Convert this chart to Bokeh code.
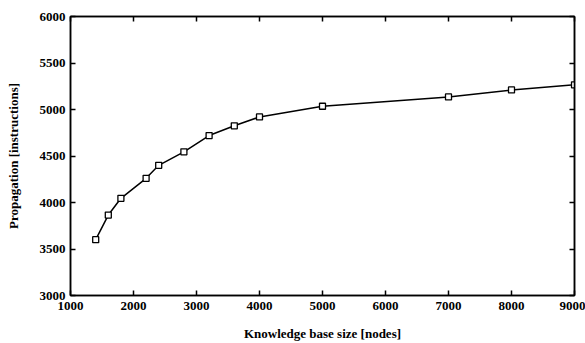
from bokeh.plotting import figure
from bokeh.models import LinearAxis, FixedTicker, Range1d
from bokeh.embed import file_html
from bokeh.resources import INLINE

kb_size = [1400, 1600, 1800, 2200, 2400, 2800, 3200, 3600, 4000, 5000, 7000, 8000, 9000]
propagation = [3600, 3865, 4045, 4260, 4400, 4545, 4720, 4825, 4920, 5035, 5135, 5210, 5265]
x_ticks = [1000, 2000, 3000, 4000, 5000, 6000, 7000, 8000, 9000]
y_ticks = [3000, 3500, 4000, 4500, 5000, 5500, 6000]

FONT = "Liberation Serif"

p = figure(width=585, height=343, output_backend="svg", toolbar_location=None,
           x_range=Range1d(1000, 9000), y_range=Range1d(3000, 6000),
           min_border_left=70, min_border_right=11, min_border_top=16, min_border_bottom=46,
           x_axis_label="Knowledge base size [nodes]",
           y_axis_label="Propagation [instructions]")
p.xgrid.visible = False
p.ygrid.visible = False
p.outline_line_color = "black"
p.outline_line_width = 1.5
p.background_fill_color = "white"
p.border_fill_color = "white"

for ax, ticks in ((p.xaxis[0], x_ticks), (p.yaxis[0], y_ticks)):
    ax.ticker = FixedTicker(ticks=ticks)
    ax.minor_tick_line_color = None
    ax.major_tick_in = 5
    ax.major_tick_out = 0
    ax.axis_line_width = 1.5
    ax.major_tick_line_width = 1.5
    ax.major_label_text_font = FONT
    ax.major_label_text_font_style = "bold"
    ax.major_label_text_font_size = "13px"
    ax.major_label_text_color = "black"
    ax.axis_label_text_font = FONT
    ax.axis_label_text_font_style = "bold"
    ax.axis_label_text_font_size = "13px"
    ax.axis_label_text_color = "black"

p.xaxis[0].major_label_standoff = 6
p.yaxis[0].major_label_standoff = 5
p.xaxis[0].axis_label_standoff = 13
p.yaxis[0].axis_label_standoff = 16

top = LinearAxis(ticker=FixedTicker(ticks=x_ticks),
                 major_label_overrides={t: "" for t in x_ticks},
                 major_tick_in=5, major_tick_out=0, minor_tick_line_color=None,
                 axis_line_width=1.5, major_tick_line_width=1.5, major_label_standoff=0)
right = LinearAxis(ticker=FixedTicker(ticks=y_ticks),
                   major_label_overrides={t: "" for t in y_ticks},
                   major_tick_in=5, major_tick_out=0, minor_tick_line_color=None,
                   axis_line_width=1.5, major_tick_line_width=1.5, major_label_standoff=0)
p.add_layout(top, "above")
p.add_layout(right, "right")

p.line(kb_size, propagation, line_color="black", line_width=1.5)
p.scatter(kb_size, propagation, marker="square", size=6, fill_color="white",
          line_color="black", line_width=1.3)

open("out.html", "w").write(file_html(p, INLINE))
